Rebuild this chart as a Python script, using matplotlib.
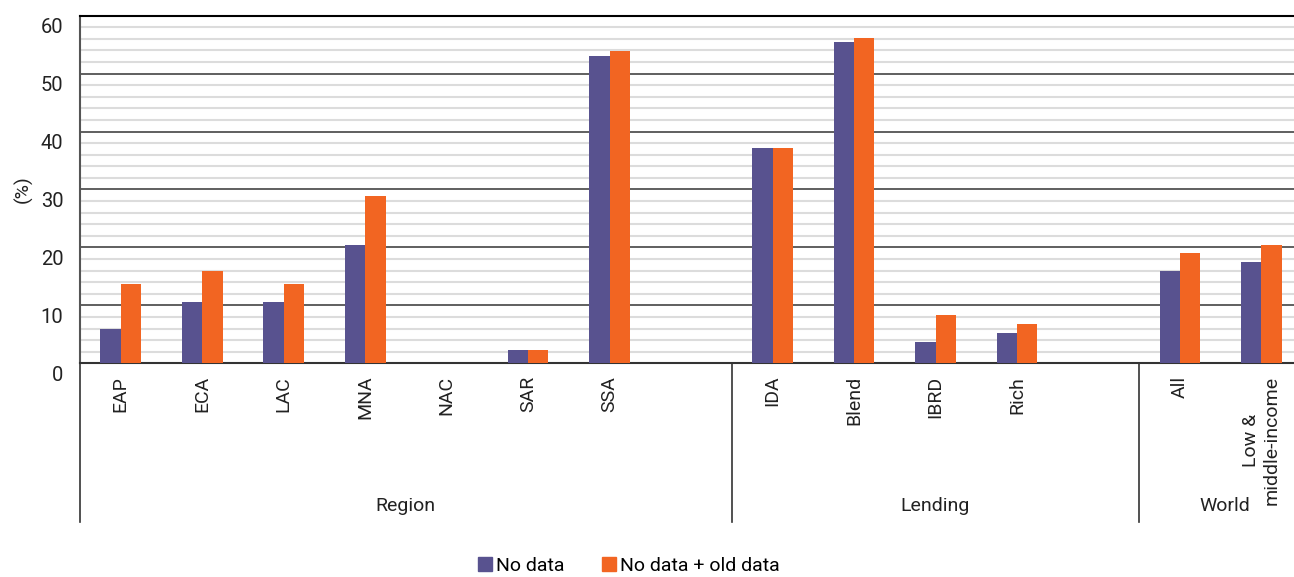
import matplotlib.pyplot as plt
import matplotlib.transforms as mtransforms
from matplotlib.patches import Patch
import numpy as np

plt.rcParams['font.family'] = ['Roboto', 'DejaVu Sans']

categories = ["EAP", "ECA", "LAC", "MNA", "NAC", "SAR", "SSA", "",
              "IDA", "Blend", "IBRD", "Rich", "",
              "All", "Low &\nmiddle-income"]
no_data = [6.0, 10.6, 10.6, 20.5, 0, 2.3, 53.1, 0,
           37.2, 55.4, 3.7, 5.2, 0,
           15.9, 17.5]
no_data_old = [13.6, 15.9, 13.6, 28.8, 0, 2.3, 53.9, 0,
               37.2, 56.2, 8.3, 6.8, 0,
               19.0, 20.5]
groups = ["Region", "Lending", "World"]
group_bounds = [(-0.5, 7.5), (7.5, 12.5), (12.5, 14.6)]

blue = "#58528f"
orange = "#f26522"

fig = plt.figure(figsize=(12.94, 5.77), dpi=100)
ax = fig.add_axes([80 / 1294, 1 - 363.3 / 577, 1 - 80 / 1294, (363.3 - 15.6) / 577])

x = np.arange(len(categories))
w = 0.25
ax.bar(x - w / 2, no_data, w, color=blue, zorder=3)
ax.bar(x + w / 2, no_data_old, w, color=orange, zorder=3)

ax.set_xlim(-0.5, 14.4)
ax.set_ylim(0, 60)
ax.set_yticks(range(0, 61, 10))
ax.set_yticks(range(0, 61, 2), minor=True)
ax.grid(axis='y', which='minor', color='#dcdcdc', lw=1.5, zorder=1)
ax.grid(axis='y', which='major', color='#444444', lw=1.2, zorder=2)
ax.tick_params(axis='y', which='both', length=0, labelsize=14.5, pad=12, colors='#222222')
for lab in ax.get_yticklabels():
    lab.set_transform(lab.get_transform() + mtransforms.ScaledTranslation(0, -7 / 72, fig.dpi_scale_trans))
ax.set_ylabel("(%)", fontsize=14, color='#222222', labelpad=6)

ax.set_xticks(x)
ax.set_xticklabels(categories, rotation=90, va='top', fontsize=14, color='#222222')
ax.tick_params(axis='x', length=0, pad=9)

ax.spines['right'].set_visible(False)
ax.spines['top'].set_color('black')
ax.spines['top'].set_linewidth(1.5)
ax.spines['bottom'].set_color('#333333')
ax.spines['bottom'].set_linewidth(1.5)
ax.spines['left'].set_color('#555555')
ax.spines['left'].set_linewidth(1.5)

# group separators and labels below the axis
trans = mtransforms.blended_transform_factory(ax.transData, ax.transAxes)
ybot = (363.3 - 522) / (363.3 - 15.6)
for xs in [-0.5, 7.5, 12.5]:
    ax.plot([xs, xs], [0, ybot], transform=trans, color='#333333', lw=1.2, clip_on=False)
ylab = (363.3 - 506) / (363.3 - 15.6)
for g, (a, b) in zip(groups, group_bounds):
    ax.text((a + b) / 2, ylab, g, transform=trans, ha='center', va='center',
            fontsize=14, color='#222222')

handles = [Patch(color=blue, label="No data"), Patch(color=orange, label="No data + old data")]
fig.legend(handles=handles, loc='center', bbox_to_anchor=(0.486, 1 - 566 / 577), ncol=2,
           frameon=False, fontsize=14, handlelength=0.75, handleheight=0.75,
           handletextpad=0.2, columnspacing=1.9)

fig.savefig("out.png", dpi=100)
